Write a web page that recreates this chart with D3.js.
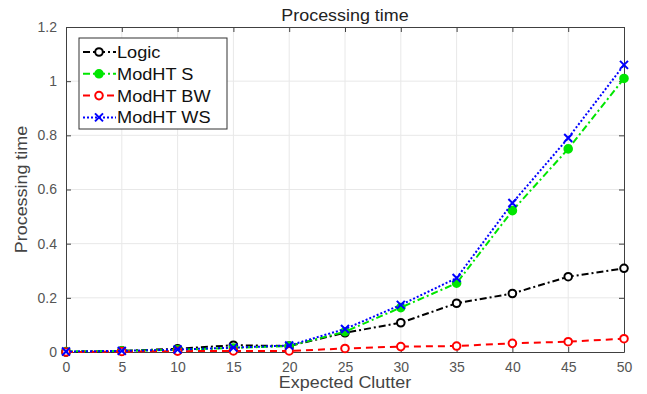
<!DOCTYPE html>
<html>
<head>
<meta charset="utf-8">
<script src="https://cdn.jsdelivr.net/npm/d3@7"></script>
<style>
  body { margin: 0; background: #fff; }
  text { font-family: "Liberation Sans", Arial, sans-serif; }
</style>
</head>
<body>
<div id="chart"></div>
<script>
const clutter = [0, 5, 10, 15, 20, 25, 30, 35, 40, 45, 50];
const logic   = [0, 0.004, 0.012, 0.025, 0.022, 0.071, 0.108, 0.18, 0.216, 0.278, 0.309];
const modS    = [0.002, 0.004, 0.008, 0.015, 0.022, 0.075, 0.164, 0.254, 0.522, 0.75, 1.01];
const modBW   = [0, 0.002, 0.003, 0.004, 0.004, 0.013, 0.02, 0.022, 0.032, 0.038, 0.049];
const modWS   = [0.002, 0.004, 0.009, 0.016, 0.024, 0.085, 0.174, 0.273, 0.55, 0.79, 1.06];
const yTicks  = [0, 0.2, 0.4, 0.6, 0.8, 1, 1.2];
const xTicks  = [0, 5, 10, 15, 20, 25, 30, 35, 40, 45, 50];

const W = 647, H = 394;
const margin = { left: 66, right: 23, top: 27, bottom: 42 };
const width = W - margin.left - margin.right,
  height = H - margin.top - margin.bottom;

const svg = d3.select('#chart').append('svg')
  .attr('width', W).attr('height', H);

const g = svg.append('g').attr('transform', `translate(${margin.left},${margin.top})`);

const x = d3.scaleLinear().domain([0, 50]).range([0, width]);
const y = d3.scaleLinear().domain([0, 1.2]).range([height, 0]);

// grid
g.append('g').selectAll('line').data(xTicks.slice(1, -1)).join('line')
  .attr('x1', d => x(d)).attr('x2', d => x(d)).attr('y1', 0).attr('y2', height)
  .attr('stroke', '#e8e8e8').attr('stroke-width', 1);
g.append('g').selectAll('line').data(yTicks.slice(1, -1)).join('line')
  .attr('y1', d => y(d)).attr('y2', d => y(d)).attr('x1', 0).attr('x2', width)
  .attr('stroke', '#e8e8e8').attr('stroke-width', 1);

// axes (ticks inward, MATLAB style)
const axColor = '#404040';
const xAxis = g.append('g').attr('transform', `translate(0,${height})`)
  .call(d3.axisBottom(x).tickValues(xTicks).tickSizeInner(-5).tickSizeOuter(0).tickPadding(10));
const yAxis = g.append('g')
  .call(d3.axisLeft(y).tickValues(yTicks).tickFormat(d3.format('~g')).tickSizeInner(-5).tickSizeOuter(0).tickPadding(9));
const xTop = g.append('g')
  .call(d3.axisTop(x).tickValues(xTicks).tickSizeInner(-5).tickSizeOuter(0).tickFormat(''));
const yRight = g.append('g').attr('transform', `translate(${width},0)`)
  .call(d3.axisRight(y).tickValues(yTicks).tickSizeInner(-5).tickSizeOuter(0).tickFormat(''));
[xAxis, yAxis, xTop, yRight].forEach(a => {
  a.select('.domain').attr('stroke', axColor);
  a.selectAll('.tick line').attr('stroke', axColor);
  a.selectAll('.tick text').attr('fill', '#555').style('font-size', '14px')
    .style('font-family', '"Liberation Sans", Arial, sans-serif');
});

// titles (source figure is slightly stretched horizontally)
function stretchedText(px, py, size, color, label, rot) {
  const t = svg.append('g')
    .attr('transform', `translate(${px},${py})` + (rot ? ` rotate(${rot})` : '') + ' scale(1.12,1)');
  return t.append('text').attr('text-anchor', 'middle').style('font-size', size + 'px')
    .attr('fill', color).text(label);
}
stretchedText(margin.left + width / 2, 21, 16, '#222', 'Processing time');
stretchedText(margin.left + width / 2, 388, 16, '#444', 'Expected Clutter');
stretchedText(27, margin.top + height / 2, 16, '#444', 'Processing time', -90);

const series = [
  { name: 'Logic', values: logic, color: '#000000', dash: '7,3,2,3', marker: 'open' },
  { name: 'ModHT S', values: modS, color: '#00e600', dash: '7,3,2,3', marker: 'filled' },
  { name: 'ModHT BW', values: modBW, color: '#ff0000', dash: '7,5', marker: 'open' },
  { name: 'ModHT WS', values: modWS, color: '#0000ff', dash: '2,2', marker: 'x' }
];

const line = d3.line().x((d, i) => x(clutter[i])).y(d => y(d));

function drawMarker(sel, s, cx, cy) {
  if (s.marker === 'x') {
    sel.append('path')
      .attr('d', `M${cx - 4},${cy - 4}L${cx + 4},${cy + 4}M${cx - 4},${cy + 4}L${cx + 4},${cy - 4}`)
      .attr('stroke', s.color).attr('stroke-width', 2);
  } else {
    sel.append('circle').attr('cx', cx).attr('cy', cy).attr('r', 3.8)
      .attr('fill', s.marker === 'filled' ? s.color : '#fff')
      .attr('stroke', s.color).attr('stroke-width', 2);
  }
}

series.forEach(s => {
  const sg = g.append('g');
  sg.append('path').datum(s.values).attr('d', line)
    .attr('fill', 'none').attr('stroke', s.color).attr('stroke-width', 2)
    .attr('stroke-dasharray', s.dash);
  s.values.forEach((v, i) => drawMarker(sg, s, x(clutter[i]), y(v)));
});

// legend
const lg = svg.append('g').attr('transform', 'translate(79,38)');
lg.append('rect').attr('width', 148).attr('height', 91)
  .attr('fill', '#fff').attr('stroke', '#333').attr('stroke-width', 1);
series.forEach((s, i) => {
  const ly = 14 + i * 21.8;
  lg.append('line').attr('x1', 4).attr('x2', 37).attr('y1', ly).attr('y2', ly)
    .attr('stroke', s.color).attr('stroke-width', 2).attr('stroke-dasharray', s.dash);
  drawMarker(lg, s, 20, ly);
  lg.append('g').attr('transform', `translate(38,${ly + 6}) scale(1.07,1)`)
    .append('text').style('font-size', '17px').attr('fill', '#111').text(s.name);
});
</script>
</body>
</html>
